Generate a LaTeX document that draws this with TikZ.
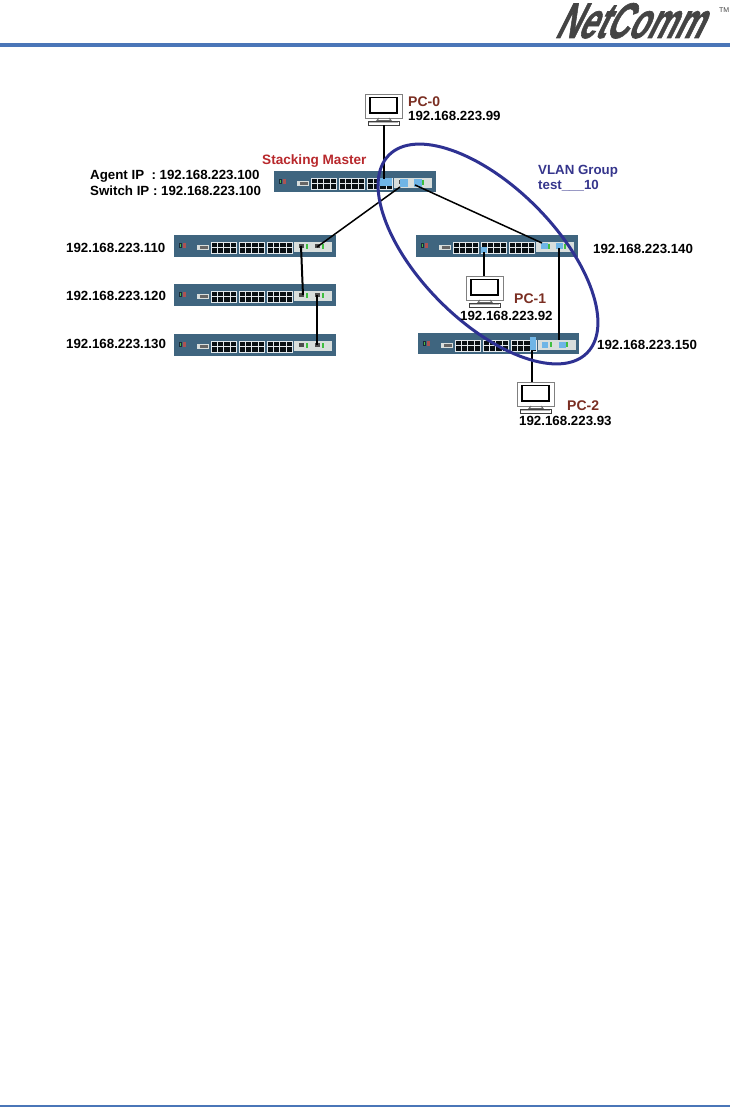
\documentclass[tikz,border=0pt]{standalone}
\usepackage{fontspec}
\setmainfont{Liberation Sans}
\newfontfamily\logofont[FakeBold=1.5]{Liberation Sans Bold}
\definecolor{rulecol}{HTML}{4A76B8}
\definecolor{bodycol}{HTML}{3F657F}
\definecolor{modcol}{HTML}{D8DEDC}
\definecolor{hilite}{HTML}{6FB5E6}
\definecolor{pcbrown}{HTML}{7A2E22}
\definecolor{masterred}{HTML}{B8282C}
\definecolor{vlanblue}{HTML}{2E3192}
\definecolor{vlantext}{HTML}{35358C}
\definecolor{logocol}{HTML}{444444}
\tikzset{
  lbl/.style={anchor=west,inner sep=0pt,font=\bfseries\fontsize{13.3}{15}\selectfont,text=black},
  pclbl/.style={lbl,text=pcbrown,font=\bfseries\fontsize{14}{16}\selectfont},
  vlbl/.style={lbl,text=vlantext},
  link/.style={draw=black,line width=1.5pt},
  swbody/.style={fill=bodycol,draw=none},
  hi/.style={fill=hilite,draw=none},
  pcbox/.style={draw=none,inner sep=0pt,minimum width=38pt,minimum height=31pt}
}
% switch: #1 name, #2 left x, #3 top y, #4 width, #5 height
\newcommand{\swunit}[5]{%
  \fill[swbody] (#2,#3) rectangle ++(#4,#5);
  \begin{scope}[shift={(#2,#3)}]
    \coordinate (#1) at (81,10);
    % status leds
    \fill[black!55!bodycol] (5,8) rectangle (8,13);
    \fill[green!45!gray] (6,9) rectangle (7,12);
    \fill[red!35!gray] (9,8) rectangle (12,13);
    % console
    \fill[modcol] (23,10) rectangle (35,15);
    \fill[black!60] (26,11) rectangle (34,14);
    % rj45 blocks
    \foreach \gx in {37,65,93}{
      \fill[white!85!bodycol] (\gx,7) rectangle ++(26,12);
      \foreach \i in {0,1,2,3}{
        \fill[black!85!bodycol] (\gx+0.7+6.3*\i,7.6) rectangle ++(5.2,4.7);
        \fill[black!85!bodycol] (\gx+0.7+6.3*\i,13.4) rectangle ++(5.2,4.7);
      }
    }
    % module bay
    \fill[modcol] (120,7) rectangle (158,17);
    \fill[black!70] (125,9) rectangle (130,13);
    \fill[black!70] (141,9) rectangle (146,13);
    \fill[green!50!gray] (132,9) rectangle (134,14);
    \fill[green!50!gray] (148,9) rectangle (150,14);
  \end{scope}
}
% pc: #1 node name, #2 left x, #3 top y
\newcommand{\pcunit}[3]{%
  \node[pcbox,anchor=north west] (#1) at (#2,#3) {};
  \begin{scope}[shift={(#2,#3)}]
    \fill[white] (0,0) rectangle (37,24);
    \draw[gray,line width=0.8pt] (0,0) rectangle (37,24);
    \draw[black,line width=1.6pt] (5,3.5) rectangle (32,19);
    \draw[gray!80!black,line width=1pt] (14,24) -- (12,26.5) -- (26,26.5) -- (24,24);
    \draw[black!75,line width=0.9pt] (3,27) rectangle (34,31);
    \fill[gray!60] (4,27.5) rectangle (33,29);
  \end{scope}
}
\begin{document}
\begin{tikzpicture}[x=1pt,y=-1pt]
\useasboundingbox (0,0) rectangle (730,1108);
% header
\node[inner sep=0pt,anchor=base west,text=logocol,xslant=0.5] (logo) at (554,38)
  {\scalebox{0.62}[1]{\logofont\fontsize{50}{50}\selectfont NetComm}};
\node[inner sep=0pt,anchor=west,text=logocol,font=\fontsize{7}{8}\selectfont] (tm) at (719,10) {TM};
\fill[rulecol] (0,43) rectangle (730,47);
\fill[rulecol] (0,1105) rectangle (730,1107);
% switches
\swunit{mast}{274}{171}{162}{21}
\swunit{swa}{174}{235}{162}{22}
\swunit{swb}{174}{284}{162}{22}
\swunit{swc}{174}{334}{162}{22}
\swunit{swd}{416}{235}{162}{22}
\swunit{swe}{418}{333}{161}{21}
% highlighted ports
\fill[hi] (379,178) rectangle ++(13,8);
\fill[hi] (400,179) rectangle ++(8,8);
\fill[hi] (414,179) rectangle ++(8,8);
\fill[hi] (481,247) rectangle ++(6,6);
\fill[hi] (541,243) rectangle ++(7,6);
\fill[hi] (556,243) rectangle ++(7,6);
\fill[hi] (530,337) rectangle ++(6,13);
\fill[hi] (542,342) rectangle ++(6,6);
\fill[hi] (559,342) rectangle ++(7,6);
\coordinate (pm) at (384,179);
\coordinate (pm1) at (400,187);
\coordinate (pm2) at (415,185);
\coordinate (pd1) at (542,243);
\coordinate (pd2) at (559,248);
\coordinate (pd3) at (484,252);
\coordinate (pe1) at (559,340);
\coordinate (pe2) at (532,351);
\coordinate (pa2) at (317,247);
\coordinate (pa1) at (301,246);
\coordinate (pb1) at (303,295);
\coordinate (pb2) at (317,295);
\coordinate (pc1) at (317,345);
% PCs
\pcunit{pczero}{365}{94}
\pcunit{pcone}{466}{276}
\pcunit{pctwo}{517}{382}
% connectors
\draw[link] (pczero.south -| pm) -- (pm);
\draw[link] (pm1) -- (pa2);
\draw[link] (pm2) -- (pd1);
\draw[link] (pd2) -- (pe1);
\draw[link,line width=2pt] (pa1) -- (pb1);
\draw[link,line width=1.1pt] (pb2) -- (pc1);
\draw[link] (pd3) -- (pcone.north -| pd3);
\draw[link] (pe2) -- (pctwo.north -| pe2);
% VLAN ellipse
\draw[vlanblue,line width=3pt,rotate around={-45:(488,254)}] (488,254) ellipse [x radius=140,y radius=67.5];
% labels
\node[pclbl] (lpc0) at (408,101.5) {PC-0};
\node[lbl] (ip0) at (408,116) {192.168.223.99};
\node[lbl,text=masterred,font=\bfseries\fontsize{13.6}{15}\selectfont] (lmaster) at (262,161) {Stacking Master};
\node[lbl] (lagent) at (90,176) {Agent IP\ \ : 192.168.223.100};
\node[lbl] (lswitch) at (90,191) {Switch IP : 192.168.223.100};
\node[vlbl] (lvlan) at (538,171) {VLAN Group};
\node[vlbl] (ltest) at (538,186) {test\_\_\_10};
\node[lbl] (ip110) at (66,248) {192.168.223.110};
\node[lbl] (ip120) at (66,296) {192.168.223.120};
\node[lbl] (ip130) at (66,344) {192.168.223.130};
\node[lbl] (ip140) at (593,249) {192.168.223.140};
\node[lbl] (ip150) at (597,344.5) {192.168.223.150};
\node[pclbl] (lpc1) at (514,299) {PC-1};
\node[lbl] (ip92) at (460,316) {192.168.223.92};
\node[pclbl] (lpc2) at (567,406) {PC-2};
\node[lbl] (ip93) at (519,421) {192.168.223.93};
\end{tikzpicture}
\end{document}
